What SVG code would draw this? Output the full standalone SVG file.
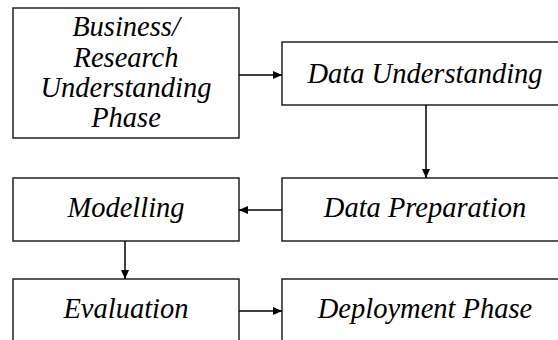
<svg xmlns="http://www.w3.org/2000/svg" width="558" height="340" viewBox="0 0 558 340">
<defs>
<marker id="ah" markerWidth="10" markerHeight="10" refX="9" refY="5" orient="auto" markerUnits="userSpaceOnUse">
<path d="M0,1 L9,5 L0,9 Z" fill="#000"/>
</marker>
<style>
.box{fill:#fff;stroke:#222;stroke-width:1.5}
.t{font-family:"Liberation Serif","Times New Roman",serif;font-style:italic;font-size:28.5px;fill:#000;text-anchor:middle}
.c{stroke:#000;stroke-width:1.5;fill:none;marker-end:url(#ah)}
</style>
</defs>
<rect width="558" height="340" fill="#fff"/>
<g id="business">
<rect class="box" x="13" y="8" width="226" height="130"/>
<text class="t" x="126" y="36">Business/</text>
<text class="t" x="126" y="67">Research</text>
<text class="t" x="126" y="97">Understanding</text>
<text class="t" x="126" y="127">Phase</text>
</g>
<g id="data-understanding">
<rect class="box" x="282" y="42" width="286" height="63"/>
<text class="t" x="425" y="83">Data Understanding</text>
</g>
<g id="data-preparation">
<rect class="box" x="282" y="178" width="286" height="63"/>
<text class="t" x="425" y="217">Data Preparation</text>
</g>
<g id="modelling">
<rect class="box" x="13" y="178" width="226" height="63"/>
<text class="t" x="126" y="217">Modelling</text>
</g>
<g id="evaluation">
<rect class="box" x="13" y="279" width="226" height="80"/>
<text class="t" x="126" y="318">Evaluation</text>
</g>
<g id="deployment">
<rect class="box" x="282" y="279" width="286" height="80"/>
<text class="t" x="425" y="318">Deployment Phase</text>
</g>
<g id="connectors">
<line class="c" x1="239" y1="75" x2="282" y2="75"/>
<line class="c" x1="426" y1="105" x2="426" y2="178"/>
<line class="c" x1="282" y1="210" x2="239" y2="210"/>
<line class="c" x1="125" y1="241" x2="125" y2="279"/>
<line class="c" x1="239" y1="311" x2="282" y2="311"/>
</g>
</svg>
